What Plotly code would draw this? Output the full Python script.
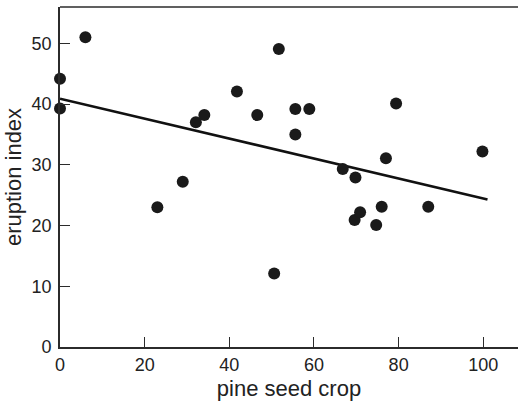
import plotly.graph_objects as go

# data
seed_crop = [0, 0, 6.0, 23.0, 29.0, 32.1, 34.1, 41.8, 46.6, 50.6, 51.7, 55.6, 55.6,
             58.9, 66.8, 69.6, 69.8, 70.9, 74.7, 76.0, 77.0, 79.4, 87.0, 99.8]
eruption = [44.2, 39.3, 51.0, 23.0, 27.2, 37.0, 38.2, 42.1, 38.2, 12.1, 49.1, 39.2, 35.0,
            39.2, 29.3, 20.9, 27.9, 22.2, 20.1, 23.1, 31.1, 40.1, 23.1, 32.2]
fit_x = [0, 101]
fit_y = [40.9, 24.3]
x_ticks = [0, 20, 40, 60, 80, 100]
y_ticks = [0, 10, 20, 30, 40, 50]

font = "Liberation Sans, Arial, sans-serif"
axcol = "#2b2b2b"

fig = go.Figure()
fig.add_trace(go.Scatter(x=fit_x, y=fit_y, mode="lines",
                         line=dict(color="#111111", width=2.6), showlegend=False))
fig.add_trace(go.Scatter(x=seed_crop, y=eruption, mode="markers",
                         marker=dict(color="#1a1a1a", size=12, line=dict(width=0)),
                         showlegend=False, cliponaxis=False))

fig.update_layout(
    width=518, height=402,
    margin=dict(l=60, r=0, t=7, b=55),
    paper_bgcolor="white", plot_bgcolor="white",
    font=dict(family=font, size=18, color="#222222"),
    xaxis=dict(range=[0, 108.2], tickvals=x_ticks, ticks="inside", ticklen=10,
               tickwidth=1.3, tickcolor=axcol, showline=True, linecolor=axcol,
               linewidth=1.6, showgrid=False, zeroline=False, automargin=False,
               title=dict(text="pine seed crop", standoff=6),
               ticklabelstandoff=1),
    yaxis=dict(range=[0, 56], tickvals=y_ticks, ticks="inside", ticklen=10,
               tickwidth=1.3, tickcolor=axcol, showline=True, linecolor=axcol,
               linewidth=1.6, showgrid=False, zeroline=False, automargin=False,
               title=dict(text="eruption index", standoff=4),
               ticklabelstandoff=3),
    shapes=[dict(type="line", xref="paper", yref="paper", x0=0, x1=1, y0=1, y1=1,
                 line=dict(color=axcol, width=1.6))],
)

fig.write_html("out.html", config={"displayModeBar": False},
               post_script="document.body.style.margin='0';document.body.style.overflow='hidden';")
